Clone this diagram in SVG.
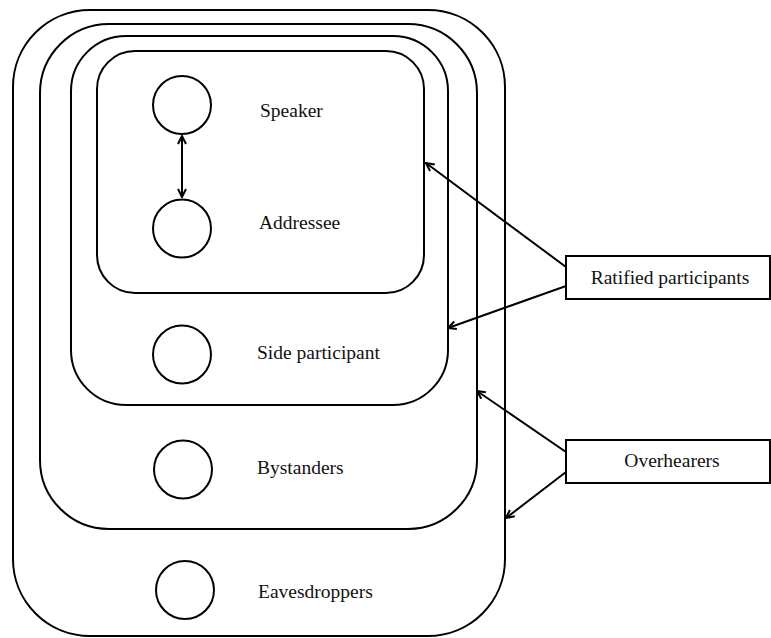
<svg xmlns="http://www.w3.org/2000/svg" width="771" height="638" viewBox="0 0 771 638">
<style>
.frame{fill:none;stroke:#000;stroke-width:2}
.c{fill:#fff;stroke:#000;stroke-width:2}
.lbl{fill:#fff;stroke:#000;stroke-width:2}
text{font-family:"Liberation Serif","Times New Roman",serif;font-size:19.5px;fill:#111}
.edge{stroke:#000;stroke-width:2;fill:none}
</style>
<defs>
<marker id="ah" viewBox="0 0 10 10" refX="9" refY="5" markerWidth="10" markerHeight="10" markerUnits="userSpaceOnUse" orient="auto-start-reverse">
<path d="M1,1 L9,5 L1,9" fill="none" stroke="#000" stroke-width="2"/>
</marker>
</defs>
<rect width="771" height="638" fill="#fff"/>
<g id="eavesdroppers-frame"><rect class="frame" x="13" y="10" width="492" height="626" rx="77" ry="77"/></g>
<g id="bystanders-frame"><rect class="frame" x="40" y="24" width="437" height="505" rx="69" ry="69"/></g>
<g id="side-frame"><rect class="frame" x="71" y="36" width="377" height="369" rx="55" ry="55"/></g>
<g id="inner-frame"><rect class="frame" x="97" y="51" width="327" height="242" rx="38" ry="38"/></g>
<g id="speaker"><circle class="c" cx="182" cy="105" r="29"/><text x="260" y="117">Speaker</text></g>
<g id="addressee"><circle class="c" cx="182" cy="228.5" r="29"/><text x="259" y="229">Addressee</text></g>
<g id="side-participant"><circle class="c" cx="182" cy="354.5" r="29"/><text x="257" y="359">Side participant</text></g>
<g id="bystanders"><circle class="c" cx="183" cy="469.5" r="29"/><text x="257" y="474">Bystanders</text></g>
<g id="eavesdroppers"><circle class="c" cx="185" cy="590" r="29"/><text x="258" y="598">Eavesdroppers</text></g>
<g id="ratified"><rect class="lbl" x="566" y="256" width="204" height="43"/><text x="670" y="284" text-anchor="middle">Ratified participants</text></g>
<g id="overhearers"><rect class="lbl" x="566" y="440" width="204" height="43"/><text x="672" y="467" text-anchor="middle">Overhearers</text></g>
<g id="connectors">
<line class="edge" x1="182" y1="136" x2="182" y2="197" marker-start="url(#ah)" marker-end="url(#ah)"/>
<line class="edge" x1="566" y1="267" x2="426" y2="163" marker-end="url(#ah)"/>
<line class="edge" x1="566" y1="286" x2="448" y2="328" marker-end="url(#ah)"/>
<line class="edge" x1="566" y1="452" x2="477" y2="391" marker-end="url(#ah)"/>
<line class="edge" x1="566" y1="472" x2="506" y2="518" marker-end="url(#ah)"/>
</g>
</svg>
